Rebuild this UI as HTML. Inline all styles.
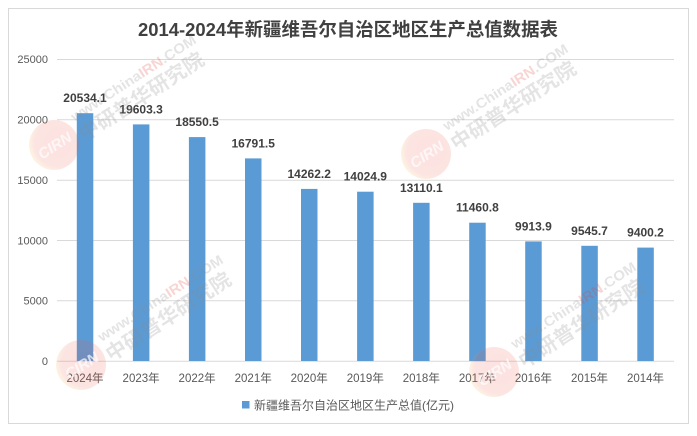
<!DOCTYPE html>
<html><head><meta charset="utf-8"><style>
html,body{margin:0;padding:0;background:#fff;}
svg{display:block;}
text{font-family:"Liberation Sans","Noto Sans CJK SC",sans-serif;}
</style></head><body>
<svg width="697" height="436" viewBox="0 0 697 436" xmlns="http://www.w3.org/2000/svg">
<defs>
<radialGradient id="cg" cx="0.6" cy="0.45" r="0.65">
<stop offset="0" stop-color="#e8453c"/>
<stop offset="0.75" stop-color="#ec5a48"/>
<stop offset="1" stop-color="#f7d64a"/>
</radialGradient>
<g id="wm">
<circle cx="0" cy="0" r="25" fill="url(#cg)" opacity="0.16"/>
<g transform="rotate(-33)">
<text x="-18" y="6" font-size="15" font-weight="bold" font-style="italic" fill="#ffffff" opacity="0.7">CIRN</text>
<text x="27" y="14" font-size="20" font-weight="bold" fill="#8a8a8a" opacity="0.22" textLength="145" lengthAdjust="spacingAndGlyphs">中研普华研究院</text>
<text x="30" y="-8" font-size="14" font-weight="bold" fill="#8a8a8a" opacity="0.22" textLength="146" lengthAdjust="spacingAndGlyphs">www.China<tspan fill="#e0443a">IRN</tspan>.COM</text>
</g>
</g>
</defs>
<rect x="0" y="0" width="697" height="436" fill="#fff"/>
<rect x="8.5" y="8.5" width="680" height="415" fill="#fff" stroke="#d9d9d9" stroke-width="1"/>
<text x="348" y="36" text-anchor="middle" font-size="18.5" font-weight="bold" fill="#404040" textLength="420" lengthAdjust="spacingAndGlyphs">2014-2024年新疆维吾尔自治区地区生产总值数据表</text>
<g stroke="#d9d9d9" stroke-width="1">
<line x1="57" x2="674" y1="59.5" y2="59.5"/>
<line x1="57" x2="674" y1="119.8" y2="119.8"/>
<line x1="57" x2="674" y1="180.2" y2="180.2"/>
<line x1="57" x2="674" y1="240.5" y2="240.5"/>
<line x1="57" x2="674" y1="300.8" y2="300.8"/>
<line x1="57" x2="674" y1="361.3" y2="361.3"/>
</g>
<g font-size="11" fill="#595959" text-anchor="end">
<text x="48" y="63">25000</text>
<text x="48" y="123.5">20000</text>
<text x="48" y="184">15000</text>
<text x="48" y="244.3">10000</text>
<text x="48" y="304.6">5000</text>
<text x="48" y="365">0</text>
</g>
<g fill="#5b9bd5">
<rect x="76.8" y="113.2" width="16.5" height="247.8"/>
<rect x="132.9" y="124.4" width="16.5" height="236.6"/>
<rect x="188.9" y="137.1" width="16.5" height="223.9"/>
<rect x="245.0" y="158.4" width="16.5" height="202.6"/>
<rect x="301.0" y="188.9" width="16.5" height="172.1"/>
<rect x="357.1" y="191.7" width="16.5" height="169.3"/>
<rect x="413.1" y="202.8" width="16.5" height="158.2"/>
<rect x="469.2" y="222.7" width="16.5" height="138.3"/>
<rect x="525.2" y="241.4" width="16.5" height="119.6"/>
<rect x="581.3" y="245.8" width="16.5" height="115.2"/>
<rect x="637.3" y="247.6" width="16.5" height="113.4"/>
</g>
<g font-size="12" font-weight="bold" fill="#404040" text-anchor="middle">
<text x="85.0" y="102.2">20534.1</text>
<text x="141.1" y="113.4">19603.3</text>
<text x="197.1" y="126.1">18550.5</text>
<text x="253.2" y="147.4">16791.5</text>
<text x="309.2" y="177.9">14262.2</text>
<text x="365.3" y="180.7">14024.9</text>
<text x="421.3" y="191.8">13110.1</text>
<text x="477.4" y="211.7">11460.8</text>
<text x="533.4" y="230.4">9913.9</text>
<text x="589.5" y="234.8">9545.7</text>
<text x="645.5" y="236.6">9400.2</text>
</g>
<g font-size="11.5" fill="#595959" text-anchor="middle">
<text x="85.0" y="381.8">2024年</text>
<text x="141.1" y="381.8">2023年</text>
<text x="197.1" y="381.8">2022年</text>
<text x="253.2" y="381.8">2021年</text>
<text x="309.2" y="381.8">2020年</text>
<text x="365.3" y="381.8">2019年</text>
<text x="421.3" y="381.8">2018年</text>
<text x="477.4" y="381.8">2017年</text>
<text x="533.4" y="381.8">2016年</text>
<text x="589.5" y="381.8">2015年</text>
<text x="645.5" y="381.8">2014年</text>
</g>
<rect x="242" y="401" width="7.5" height="7.5" fill="#5b9bd5"/>
<text x="254" y="409.5" font-size="12" fill="#595959" textLength="200" lengthAdjust="spacingAndGlyphs">新疆维吾尔自治区地区生产总值(亿元)</text>
<use href="#wm" x="54" y="145"/>
<use href="#wm" x="426" y="154"/>
<use href="#wm" x="81" y="365"/>
<use href="#wm" x="494" y="372"/>
</svg>
</body></html>
